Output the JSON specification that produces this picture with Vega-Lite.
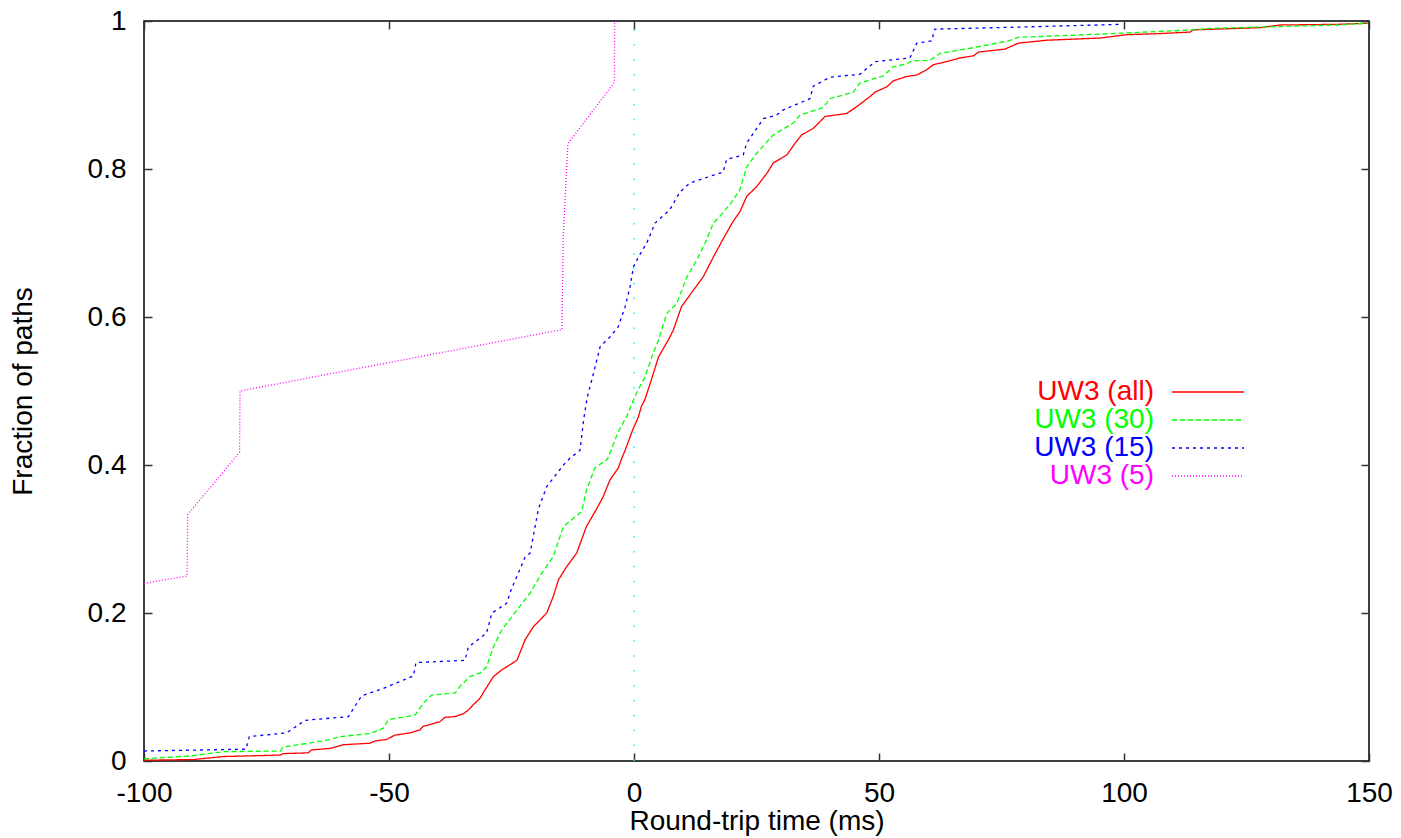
{
  "$schema": "https://vega.github.io/schema/vega-lite/v6.json",
  "width": 1225,
  "height": 740,
  "autosize": {"type": "none"},
  "padding": {"left": 144, "top": 21, "right": 32, "bottom": 77},
  "background": "white",
  "config": {
    "font": "Liberation Sans",
    "view": {"stroke": "#000", "strokeWidth": 1.5},
    "axis": {
      "domain": false,
      "grid": false,
      "tickSize": -8,
      "tickWidth": 1.5,
      "tickColor": "#333",
      "labelFont": "Liberation Sans",
      "labelFontSize": 28,
      "labelColor": "#000",
      "labelPadding": 26,
      "labelFlush": false,
      "labelOverlap": false,
      "titleFont": "Liberation Sans",
      "titleFontSize": 28,
      "titleFontWeight": "normal",
      "titleColor": "#000"
    }
  },
  "datasets": {
    "curves": [
      {"series": "UW3 (all)", "x": -100, "y": 0.001},
      {"series": "UW3 (all)", "x": -89.9, "y": 0.002},
      {"series": "UW3 (all)", "x": -83.8, "y": 0.006},
      {"series": "UW3 (all)", "x": -72.2, "y": 0.008},
      {"series": "UW3 (all)", "x": -71.6, "y": 0.010},
      {"series": "UW3 (all)", "x": -66.5, "y": 0.011},
      {"series": "UW3 (all)", "x": -65.8, "y": 0.015},
      {"series": "UW3 (all)", "x": -62.0, "y": 0.017},
      {"series": "UW3 (all)", "x": -59.3, "y": 0.022},
      {"series": "UW3 (all)", "x": -53.9, "y": 0.024},
      {"series": "UW3 (all)", "x": -52.9, "y": 0.027},
      {"series": "UW3 (all)", "x": -50.5, "y": 0.029},
      {"series": "UW3 (all)", "x": -48.8, "y": 0.035},
      {"series": "UW3 (all)", "x": -45.7, "y": 0.038},
      {"series": "UW3 (all)", "x": -43.7, "y": 0.042},
      {"series": "UW3 (all)", "x": -43.0, "y": 0.047},
      {"series": "UW3 (all)", "x": -39.6, "y": 0.053},
      {"series": "UW3 (all)", "x": -38.6, "y": 0.059},
      {"series": "UW3 (all)", "x": -36.5, "y": 0.060},
      {"series": "UW3 (all)", "x": -34.8, "y": 0.064},
      {"series": "UW3 (all)", "x": -33.8, "y": 0.069},
      {"series": "UW3 (all)", "x": -32.8, "y": 0.076},
      {"series": "UW3 (all)", "x": -31.4, "y": 0.085},
      {"series": "UW3 (all)", "x": -30.5, "y": 0.095},
      {"series": "UW3 (all)", "x": -28.7, "y": 0.114},
      {"series": "UW3 (all)", "x": -27.0, "y": 0.123},
      {"series": "UW3 (all)", "x": -23.9, "y": 0.136},
      {"series": "UW3 (all)", "x": -22.2, "y": 0.164},
      {"series": "UW3 (all)", "x": -20.6, "y": 0.181},
      {"series": "UW3 (all)", "x": -17.8, "y": 0.200},
      {"series": "UW3 (all)", "x": -16.5, "y": 0.222},
      {"series": "UW3 (all)", "x": -15.4, "y": 0.245},
      {"series": "UW3 (all)", "x": -13.7, "y": 0.263},
      {"series": "UW3 (all)", "x": -11.7, "y": 0.281},
      {"series": "UW3 (all)", "x": -9.7, "y": 0.317},
      {"series": "UW3 (all)", "x": -7.6, "y": 0.341},
      {"series": "UW3 (all)", "x": -6.3, "y": 0.357},
      {"series": "UW3 (all)", "x": -4.9, "y": 0.380},
      {"series": "UW3 (all)", "x": -3.2, "y": 0.396},
      {"series": "UW3 (all)", "x": -2.5, "y": 0.409},
      {"series": "UW3 (all)", "x": -1.8, "y": 0.420},
      {"series": "UW3 (all)", "x": -0.3, "y": 0.447},
      {"series": "UW3 (all)", "x": 0.9, "y": 0.465},
      {"series": "UW3 (all)", "x": 1.5, "y": 0.479},
      {"series": "UW3 (all)", "x": 2.2, "y": 0.488},
      {"series": "UW3 (all)", "x": 3.3, "y": 0.510},
      {"series": "UW3 (all)", "x": 5.0, "y": 0.546},
      {"series": "UW3 (all)", "x": 7.0, "y": 0.569},
      {"series": "UW3 (all)", "x": 8.0, "y": 0.582},
      {"series": "UW3 (all)", "x": 9.7, "y": 0.614},
      {"series": "UW3 (all)", "x": 12.1, "y": 0.636},
      {"series": "UW3 (all)", "x": 14.1, "y": 0.654},
      {"series": "UW3 (all)", "x": 16.2, "y": 0.681},
      {"series": "UW3 (all)", "x": 17.9, "y": 0.702},
      {"series": "UW3 (all)", "x": 19.6, "y": 0.722},
      {"series": "UW3 (all)", "x": 20.5, "y": 0.732},
      {"series": "UW3 (all)", "x": 21.6, "y": 0.742},
      {"series": "UW3 (all)", "x": 23.0, "y": 0.763},
      {"series": "UW3 (all)", "x": 25.0, "y": 0.776},
      {"series": "UW3 (all)", "x": 27.1, "y": 0.794},
      {"series": "UW3 (all)", "x": 28.4, "y": 0.808},
      {"series": "UW3 (all)", "x": 31.2, "y": 0.819},
      {"series": "UW3 (all)", "x": 32.9, "y": 0.835},
      {"series": "UW3 (all)", "x": 34.2, "y": 0.846},
      {"series": "UW3 (all)", "x": 36.6, "y": 0.855},
      {"series": "UW3 (all)", "x": 39.0, "y": 0.871},
      {"series": "UW3 (all)", "x": 43.4, "y": 0.875},
      {"series": "UW3 (all)", "x": 45.4, "y": 0.884},
      {"series": "UW3 (all)", "x": 48.2, "y": 0.898},
      {"series": "UW3 (all)", "x": 49.2, "y": 0.904},
      {"series": "UW3 (all)", "x": 51.6, "y": 0.911},
      {"series": "UW3 (all)", "x": 52.9, "y": 0.919},
      {"series": "UW3 (all)", "x": 55.6, "y": 0.925},
      {"series": "UW3 (all)", "x": 57.7, "y": 0.927},
      {"series": "UW3 (all)", "x": 59.7, "y": 0.934},
      {"series": "UW3 (all)", "x": 61.1, "y": 0.941},
      {"series": "UW3 (all)", "x": 63.8, "y": 0.945},
      {"series": "UW3 (all)", "x": 66.5, "y": 0.950},
      {"series": "UW3 (all)", "x": 69.3, "y": 0.953},
      {"series": "UW3 (all)", "x": 70.3, "y": 0.958},
      {"series": "UW3 (all)", "x": 75.7, "y": 0.962},
      {"series": "UW3 (all)", "x": 78.4, "y": 0.970},
      {"series": "UW3 (all)", "x": 84.2, "y": 0.974},
      {"series": "UW3 (all)", "x": 95.1, "y": 0.977},
      {"series": "UW3 (all)", "x": 100.5, "y": 0.9815},
      {"series": "UW3 (all)", "x": 107.3, "y": 0.983},
      {"series": "UW3 (all)", "x": 113.5, "y": 0.985},
      {"series": "UW3 (all)", "x": 114.1, "y": 0.988},
      {"series": "UW3 (all)", "x": 127.8, "y": 0.991},
      {"series": "UW3 (all)", "x": 131.8, "y": 0.9946},
      {"series": "UW3 (all)", "x": 143.7, "y": 0.9955},
      {"series": "UW3 (all)", "x": 149.8, "y": 0.997},

      {"series": "UW3 (30)", "x": -100, "y": 0.003},
      {"series": "UW3 (30)", "x": -90.3, "y": 0.007},
      {"series": "UW3 (30)", "x": -83.8, "y": 0.0126},
      {"series": "UW3 (30)", "x": -72.2, "y": 0.0135},
      {"series": "UW3 (30)", "x": -71.6, "y": 0.019},
      {"series": "UW3 (30)", "x": -66.5, "y": 0.024},
      {"series": "UW3 (30)", "x": -62.0, "y": 0.029},
      {"series": "UW3 (30)", "x": -60.0, "y": 0.033},
      {"series": "UW3 (30)", "x": -53.9, "y": 0.037},
      {"series": "UW3 (30)", "x": -51.2, "y": 0.044},
      {"series": "UW3 (30)", "x": -50.1, "y": 0.056},
      {"series": "UW3 (30)", "x": -44.7, "y": 0.062},
      {"series": "UW3 (30)", "x": -43.0, "y": 0.078},
      {"series": "UW3 (30)", "x": -41.3, "y": 0.089},
      {"series": "UW3 (30)", "x": -36.5, "y": 0.092},
      {"series": "UW3 (30)", "x": -35.5, "y": 0.101},
      {"series": "UW3 (30)", "x": -33.5, "y": 0.114},
      {"series": "UW3 (30)", "x": -31.4, "y": 0.119},
      {"series": "UW3 (30)", "x": -30.1, "y": 0.127},
      {"series": "UW3 (30)", "x": -28.7, "y": 0.154},
      {"series": "UW3 (30)", "x": -27.0, "y": 0.177},
      {"series": "UW3 (30)", "x": -23.9, "y": 0.204},
      {"series": "UW3 (30)", "x": -21.2, "y": 0.227},
      {"series": "UW3 (30)", "x": -18.8, "y": 0.254},
      {"series": "UW3 (30)", "x": -16.5, "y": 0.276},
      {"series": "UW3 (30)", "x": -14.4, "y": 0.317},
      {"series": "UW3 (30)", "x": -10.7, "y": 0.337},
      {"series": "UW3 (30)", "x": -9.7, "y": 0.366},
      {"series": "UW3 (30)", "x": -8.0, "y": 0.396},
      {"series": "UW3 (30)", "x": -5.4, "y": 0.408},
      {"series": "UW3 (30)", "x": -3.2, "y": 0.445},
      {"series": "UW3 (30)", "x": -1.4, "y": 0.467},
      {"series": "UW3 (30)", "x": 0.4, "y": 0.496},
      {"series": "UW3 (30)", "x": 2.2, "y": 0.518},
      {"series": "UW3 (30)", "x": 3.9, "y": 0.551},
      {"series": "UW3 (30)", "x": 5.0, "y": 0.569},
      {"series": "UW3 (30)", "x": 6.7, "y": 0.605},
      {"series": "UW3 (30)", "x": 8.7, "y": 0.618},
      {"series": "UW3 (30)", "x": 10.8, "y": 0.654},
      {"series": "UW3 (30)", "x": 12.8, "y": 0.677},
      {"series": "UW3 (30)", "x": 14.8, "y": 0.704},
      {"series": "UW3 (30)", "x": 16.2, "y": 0.727},
      {"series": "UW3 (30)", "x": 17.8, "y": 0.738},
      {"series": "UW3 (30)", "x": 19.9, "y": 0.755},
      {"series": "UW3 (30)", "x": 21.6, "y": 0.772},
      {"series": "UW3 (30)", "x": 23.0, "y": 0.803},
      {"series": "UW3 (30)", "x": 25.0, "y": 0.821},
      {"series": "UW3 (30)", "x": 28.4, "y": 0.846},
      {"series": "UW3 (30)", "x": 32.5, "y": 0.862},
      {"series": "UW3 (30)", "x": 33.9, "y": 0.873},
      {"series": "UW3 (30)", "x": 38.6, "y": 0.883},
      {"series": "UW3 (30)", "x": 40.0, "y": 0.895},
      {"series": "UW3 (30)", "x": 44.8, "y": 0.904},
      {"series": "UW3 (30)", "x": 46.1, "y": 0.916},
      {"series": "UW3 (30)", "x": 50.9, "y": 0.926},
      {"series": "UW3 (30)", "x": 52.9, "y": 0.938},
      {"series": "UW3 (30)", "x": 55.6, "y": 0.942},
      {"series": "UW3 (30)", "x": 56.7, "y": 0.946},
      {"series": "UW3 (30)", "x": 60.4, "y": 0.947},
      {"series": "UW3 (30)", "x": 62.4, "y": 0.956},
      {"series": "UW3 (30)", "x": 66.5, "y": 0.961},
      {"series": "UW3 (30)", "x": 69.3, "y": 0.964},
      {"series": "UW3 (30)", "x": 76.4, "y": 0.973},
      {"series": "UW3 (30)", "x": 78.4, "y": 0.978},
      {"series": "UW3 (30)", "x": 97.8, "y": 0.983},
      {"series": "UW3 (30)", "x": 114.1, "y": 0.988},
      {"series": "UW3 (30)", "x": 117.6, "y": 0.990},
      {"series": "UW3 (30)", "x": 143.4, "y": 0.9946},
      {"series": "UW3 (30)", "x": 149.8, "y": 0.997},

      {"series": "UW3 (15)", "x": -100, "y": 0.0135},
      {"series": "UW3 (15)", "x": -79.2, "y": 0.016},
      {"series": "UW3 (15)", "x": -78.5, "y": 0.033},
      {"series": "UW3 (15)", "x": -70.9, "y": 0.038},
      {"series": "UW3 (15)", "x": -67.1, "y": 0.055},
      {"series": "UW3 (15)", "x": -58.3, "y": 0.060},
      {"series": "UW3 (15)", "x": -55.6, "y": 0.088},
      {"series": "UW3 (15)", "x": -51.2, "y": 0.098},
      {"series": "UW3 (15)", "x": -45.0, "y": 0.115},
      {"series": "UW3 (15)", "x": -44.5, "y": 0.133},
      {"series": "UW3 (15)", "x": -34.5, "y": 0.136},
      {"series": "UW3 (15)", "x": -33.8, "y": 0.154},
      {"series": "UW3 (15)", "x": -31.4, "y": 0.166},
      {"series": "UW3 (15)", "x": -30.1, "y": 0.173},
      {"series": "UW3 (15)", "x": -29.0, "y": 0.200},
      {"series": "UW3 (15)", "x": -26.0, "y": 0.213},
      {"series": "UW3 (15)", "x": -25.0, "y": 0.233},
      {"series": "UW3 (15)", "x": -23.6, "y": 0.254},
      {"series": "UW3 (15)", "x": -22.2, "y": 0.276},
      {"series": "UW3 (15)", "x": -21.2, "y": 0.281},
      {"series": "UW3 (15)", "x": -19.5, "y": 0.341},
      {"series": "UW3 (15)", "x": -17.8, "y": 0.371},
      {"series": "UW3 (15)", "x": -14.4, "y": 0.400},
      {"series": "UW3 (15)", "x": -13.1, "y": 0.409},
      {"series": "UW3 (15)", "x": -11.0, "y": 0.420},
      {"series": "UW3 (15)", "x": -10.3, "y": 0.460},
      {"series": "UW3 (15)", "x": -9.6, "y": 0.490},
      {"series": "UW3 (15)", "x": -8.6, "y": 0.515},
      {"series": "UW3 (15)", "x": -6.9, "y": 0.560},
      {"series": "UW3 (15)", "x": -4.9, "y": 0.573},
      {"series": "UW3 (15)", "x": -3.2, "y": 0.587},
      {"series": "UW3 (15)", "x": -1.8, "y": 0.614},
      {"series": "UW3 (15)", "x": -0.8, "y": 0.641},
      {"series": "UW3 (15)", "x": -0.1, "y": 0.668},
      {"series": "UW3 (15)", "x": 0.9, "y": 0.681},
      {"series": "UW3 (15)", "x": 2.6, "y": 0.700},
      {"series": "UW3 (15)", "x": 4.3, "y": 0.727},
      {"series": "UW3 (15)", "x": 7.3, "y": 0.745},
      {"series": "UW3 (15)", "x": 9.4, "y": 0.769},
      {"series": "UW3 (15)", "x": 11.4, "y": 0.781},
      {"series": "UW3 (15)", "x": 18.2, "y": 0.796},
      {"series": "UW3 (15)", "x": 18.9, "y": 0.813},
      {"series": "UW3 (15)", "x": 22.3, "y": 0.819},
      {"series": "UW3 (15)", "x": 23.0, "y": 0.835},
      {"series": "UW3 (15)", "x": 26.4, "y": 0.868},
      {"series": "UW3 (15)", "x": 29.1, "y": 0.873},
      {"series": "UW3 (15)", "x": 30.5, "y": 0.880},
      {"series": "UW3 (15)", "x": 35.9, "y": 0.895},
      {"series": "UW3 (15)", "x": 36.6, "y": 0.912},
      {"series": "UW3 (15)", "x": 40.0, "y": 0.924},
      {"series": "UW3 (15)", "x": 46.1, "y": 0.928},
      {"series": "UW3 (15)", "x": 49.2, "y": 0.945},
      {"series": "UW3 (15)", "x": 56.3, "y": 0.950},
      {"series": "UW3 (15)", "x": 57.7, "y": 0.970},
      {"series": "UW3 (15)", "x": 60.7, "y": 0.973},
      {"series": "UW3 (15)", "x": 61.4, "y": 0.989},
      {"series": "UW3 (15)", "x": 80.0, "y": 0.992},
      {"series": "UW3 (15)", "x": 99.5, "y": 0.9955},

      {"series": "UW3 (5)", "x": -100, "y": 0.240},
      {"series": "UW3 (5)", "x": -91.2, "y": 0.250},
      {"series": "UW3 (5)", "x": -91.1, "y": 0.333},
      {"series": "UW3 (5)", "x": -80.5, "y": 0.417},
      {"series": "UW3 (5)", "x": -80.4, "y": 0.500},
      {"series": "UW3 (5)", "x": -14.7, "y": 0.583},
      {"series": "UW3 (5)", "x": -14.45, "y": 0.708},
      {"series": "UW3 (5)", "x": -13.5, "y": 0.834},
      {"series": "UW3 (5)", "x": -4.0, "y": 0.917},
      {"series": "UW3 (5)", "x": -3.95, "y": 1.0}
    ],
    "zero": [{"x": 0, "y": 0, "y2": 1}]
  },
  "layer": [
    {
      "data": {"name": "zero"},
      "mark": {"type": "rule", "color": "#00ffff", "strokeWidth": 1.5, "strokeDash": [1.5, 13.4]},
      "encoding": {
        "x": {"field": "x", "type": "quantitative", "scale": {"domain": [-100, 150], "nice": false, "zero": false},
              "axis": {"orient": "top", "labels": false, "title": null, "values": [-100, -50, 0, 50, 100, 150]}},
        "y": {"field": "y", "type": "quantitative", "scale": {"domain": [0, 1], "nice": false},
              "axis": {"orient": "right", "labels": false, "title": null, "values": [0, 0.2, 0.4, 0.6, 0.8, 1]}},
        "y2": {"field": "y2"}
      }
    },
    {
      "data": {"name": "curves"},
      "mark": {"type": "line", "strokeWidth": 1.3, "clip": true},
      "encoding": {
        "x": {"field": "x", "type": "quantitative",
              "axis": {"orient": "bottom", "values": [-100, -50, 0, 50, 100, 150], "labelExpr": "'' + datum.value", "title": "Round-trip time (ms)", "titlePadding": 0}},
        "y": {"field": "y", "type": "quantitative",
              "axis": {"orient": "left", "values": [0, 0.2, 0.4, 0.6, 0.8, 1], "labelExpr": "'' + datum.value", "title": "Fraction of paths", "titlePadding": 50}},
        "order": {"field": "y", "type": "quantitative"},
        "color": {"field": "series", "type": "nominal",
                  "scale": {"domain": ["UW3 (all)", "UW3 (30)", "UW3 (15)", "UW3 (5)"], "range": ["#ff0000", "#00ff00", "#0000ff", "#ff00ff"]},
                  "legend": {"orient": "none", "legendX": 1050, "legendY": 357, "title": null, "symbolType": "M-6,0H6", "symbolSize": 144, "symbolStrokeWidth": 1.5, "labelFont": "Liberation Sans", "labelFontSize": 28, "labelAlign": "right", "labelOffset": -68, "labelColor": {"expr": "scale('color', datum.value)"}, "rowPadding": 0, "padding": 0}},
        "strokeDash": {"field": "series", "type": "nominal",
                  "scale": {"domain": ["UW3 (all)", "UW3 (30)", "UW3 (15)", "UW3 (5)"], "range": [[1, 0], [5, 3], [3, 4], [1, 2]]},
                  "legend": {"orient": "none", "legendX": 1050, "legendY": 357, "title": null, "symbolType": "M-6,0H6", "symbolSize": 144, "symbolStrokeWidth": 1.5, "labelFont": "Liberation Sans", "labelFontSize": 28, "labelAlign": "right", "labelOffset": -68, "labelColor": {"expr": "scale('color', datum.value)"}, "rowPadding": 0, "padding": 0}}
      }
    }
  ],
  "resolve": {"axis": {"x": "independent", "y": "independent"}}
}
